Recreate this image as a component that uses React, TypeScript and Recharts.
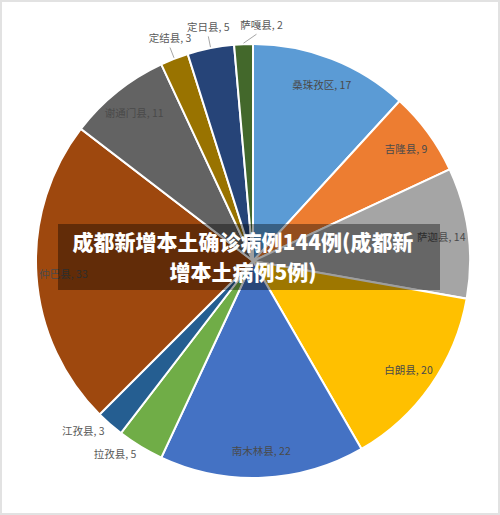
import React from 'react';
import { PieChart, Pie, Cell } from 'recharts';

// 各县新增病例，从正上方开始顺时针
const names = [
  '桑珠孜区', '吉隆县', '萨迦县', '白朗县', '南木林县', '拉孜县',
  '江孜县', '仲巴县', '谢通门县', '定结县', '定日县', '萨嘎县',
];
const values = [17, 9, 14, 20, 22, 5, 3, 33, 11, 3, 5, 2];
const colors = [
  '#5B9BD5', '#ED7D31', '#A5A5A5', '#FFC000', '#4472C4', '#70AD47',
  '#255E91', '#9E480E', '#636363', '#997300', '#264478', '#43682B',
];
const titleLines = ['成都新增本土确诊病例144例(成都新', '增本土病例5例)'];

const data = names.map((name, i) => ({ name, value: values[i] }));

const RADIAN = Math.PI / 180;
const FONT = '"Noto Sans CJK SC", "Noto Sans", sans-serif';

const renderLabel = (props: any) => {
  const { cx, cy, midAngle, outerRadius, name, value } = props;
  const cos = Math.cos(-midAngle * RADIAN);
  const sin = Math.sin(-midAngle * RADIAN);
  const text = `${name}, ${value}`;

  // big slices: label inside, near the rim
  if (value > 5) {
    const r = outerRadius * 0.875;
    return (
      <text
        x={cx + r * cos}
        y={cy + r * sin}
        textAnchor="middle"
        dominantBaseline="central"
        fill="#4a4a4a"
        fontSize={10.5}
        fontFamily={FONT}
      >
        {text}
      </text>
    );
  }

  // small slices at the top: leader line + text above
  if (sin < 0) {
    const sx = cx + (outerRadius + 1) * cos;
    const sy = cy + (outerRadius + 1) * sin;
    let ex = cx + (outerRadius + 12) * cos;
    let ey = cy + (outerRadius + 12) * sin;
    let tx = ex;
    if (Math.abs(cos) < 0.1) {
      ex = sx + 13;
      ey = sy - 9;
      tx = ex + 5;
    }
    return (
      <g>
        <path d={`M${sx},${sy}L${ex},${ey}`} stroke="#a6a6a6" fill="none" />
        <text
          x={tx}
          y={ey - 10}
          textAnchor="middle"
          dominantBaseline="central"
          fill="#595959"
          fontSize={10.5}
          fontFamily={FONT}
        >
          {text}
        </text>
      </g>
    );
  }

  // small slices at the bottom left: text just outside, anchored at the end
  const r = outerRadius + 8;
  return (
    <text
      x={cx + r * cos}
      y={cy + r * sin}
      textAnchor="end"
      dominantBaseline="central"
      fill="#595959"
      fontSize={10.5}
      fontFamily={FONT}
    >
      {text}
    </text>
  );
};

export default function App() {
  return (
    <div
      style={{
        position: 'absolute',
        left: 0,
        top: 0,
        width: 500,
        height: 515,
        boxSizing: 'border-box',
        border: '2px solid #e2e2e2',
        background: '#ffffff',
        overflow: 'hidden',
      }}
    >
      <div style={{ position: 'absolute', left: -2, top: -2 }}>
        <PieChart width={500} height={515}>
          <Pie
            data={data}
            dataKey="value"
            nameKey="name"
            cx={248}
            cy={256}
            outerRadius={217}
            startAngle={90}
            endAngle={-270}
            stroke="#ffffff"
            strokeWidth={2}
            label={renderLabel}
            labelLine={false}
            isAnimationActive={false}
          >
            {data.map((d, i) => (
              <Cell key={d.name} fill={colors[i]} />
            ))}
          </Pie>
        </PieChart>
      </div>
      <div
        style={{
          position: 'absolute',
          left: 56,
          top: 222,
          width: 382,
          height: 66,
          boxSizing: 'border-box',
          paddingTop: 2,
          paddingRight: 12,
          background: 'rgba(0,0,0,0.38)',
          color: '#ffffff',
          fontFamily: FONT,
          fontWeight: 900,
          fontSize: 21,
          lineHeight: '30px',
          textAlign: 'center',
          whiteSpace: 'nowrap',
        }}
      >
        {titleLines.map((t) => (
          <div key={t}>{t}</div>
        ))}
      </div>
    </div>
  );
}
